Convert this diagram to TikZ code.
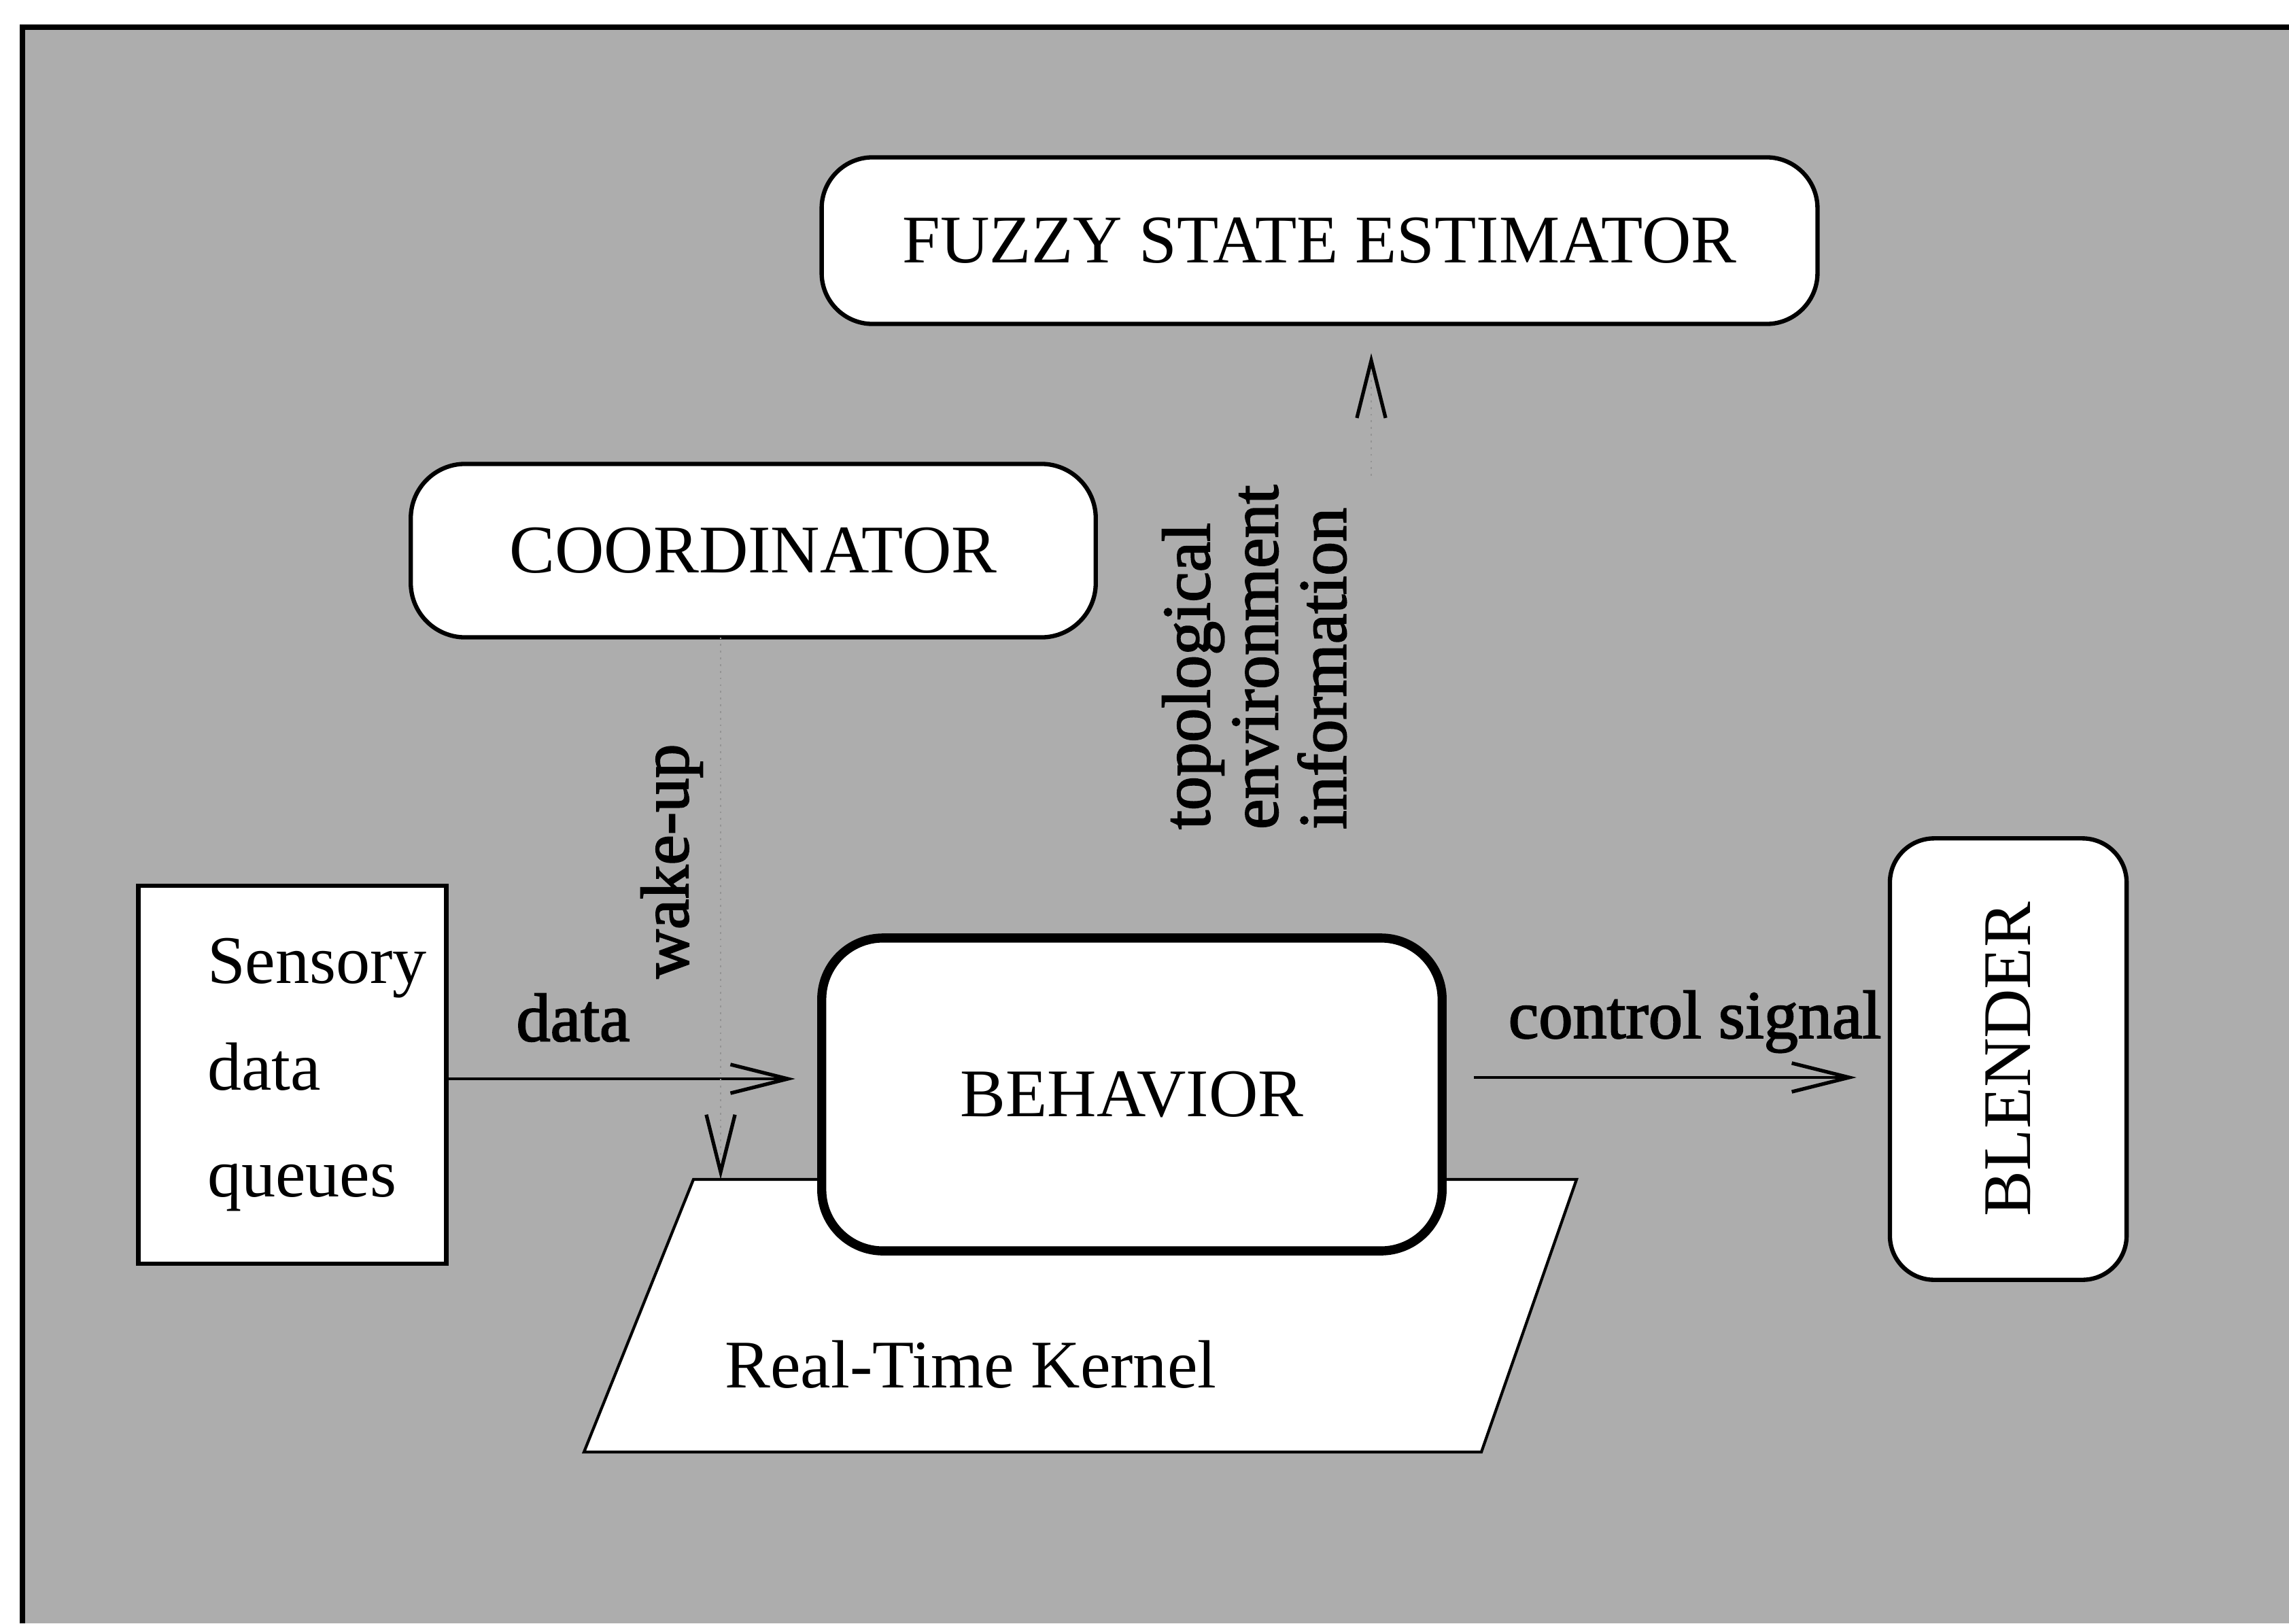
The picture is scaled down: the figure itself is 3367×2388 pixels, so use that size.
\documentclass[tikz,border=0pt]{standalone}
\usepackage{fontspec}
\setmainfont{Liberation Serif}
\newfontfamily\heavyserif[FakeBold=2]{Liberation Serif}
\usetikzlibrary{arrows.meta,calc}
\definecolor{screen}{gray}{0.68}
\definecolor{faintline}{gray}{0.58}

\begin{document}
\begin{tikzpicture}[x=0.01cm,y=-0.01cm,
  font=\fontsize{28.5pt}{34pt}\selectfont,
  every node/.style={inner sep=0pt, outer sep=0pt},
  softbox/.style={draw, line width=1.8pt, fill=white},
  flowlabel/.style={font=\heavyserif\fontsize{28.5pt}{28.5pt}\selectfont},
  barbtip/.style={-{Straight Barb[length=24pt,width=12pt,line width=1.5pt,color=black]}},
  arrowline/.style={barbtip, line width=1.4pt},
  faint/.style={barbtip, draw=faintline, line width=0.8pt, dotted},
]
\useasboundingbox (0,0) rectangle (3367,2388);

% shaded panel with its frame on the top and left
\fill[screen] (33,40) rectangle (3367,2388);
\draw[line width=2pt] (33,2388) -- (33,40) -- (3367,40);

% modules
\node[softbox, rounded corners=0.75cm, minimum width=14.64cm, minimum height=2.45cm]
  (fse) at (1941,354) {FUZZY STATE ESTIMATOR};
\node[softbox, rounded corners=0.8cm, minimum width=10.07cm, minimum height=2.55cm]
  (coord) at (1108,810) {COORDINATOR};

\node[softbox, minimum width=4.53cm, minimum height=5.56cm] (sens) at (430,1581) {};
\node[anchor=west, align=left, font=\fontsize{28.5pt}{44.7pt}\selectfont]
  (senstext) at (305,1581) {Sensory\\data\\queues};

% real-time kernel underneath the behavior
\coordinate (k1) at (1020,1735);
\coordinate (k2) at (2319,1735);
\coordinate (k3) at (2179,2136);
\coordinate (k4) at (859,2136);
\draw[line width=1.2pt, fill=white] (k1) -- (k2) -- (k3) -- (k4) -- cycle;
\node (kernel) at (1428,2007) {Real-Time Kernel};
\coordinate (wk) at (1060,1735);

\node[draw, fill=white, line width=3.8pt, rounded corners=0.9cm,
  minimum width=9.12cm, minimum height=4.6cm] (beh) at (1665,1610) {BEHAVIOR};

\node[softbox, rotate=90, rounded corners=0.65cm, minimum width=6.49cm, minimum height=3.48cm]
  (blend) at (2954,1558) {BLENDER};

% labels
\node[flowlabel] (datalbl) at (843,1497) {data};
\node[flowlabel] (ctrllbl) at (2493,1503) {control signal};
\node[flowlabel, rotate=90] (wakelbl) at (988,1267) {wake-up};
\node[flowlabel, rotate=90, anchor=west, align=left]
  (infolbl) at (1845,1220) {topological\\environment\\information};
\coordinate (up0) at (2017,700);

% connectors
\draw[arrowline, shorten >=0.39cm] (sens.east |- 0,1587) -- (beh.west |- 0,1587);
\draw[arrowline, shorten >=0.49cm] ($(beh.east |- 0,1585)+(47,0)$) -- (blend.north |- 0,1585);
\draw[faint] (coord.south -| wk) -- (wk);
\draw[faint, shorten >=0.43cm] (up0) -- (up0 |- fse.south);
\end{tikzpicture}
\end{document}
